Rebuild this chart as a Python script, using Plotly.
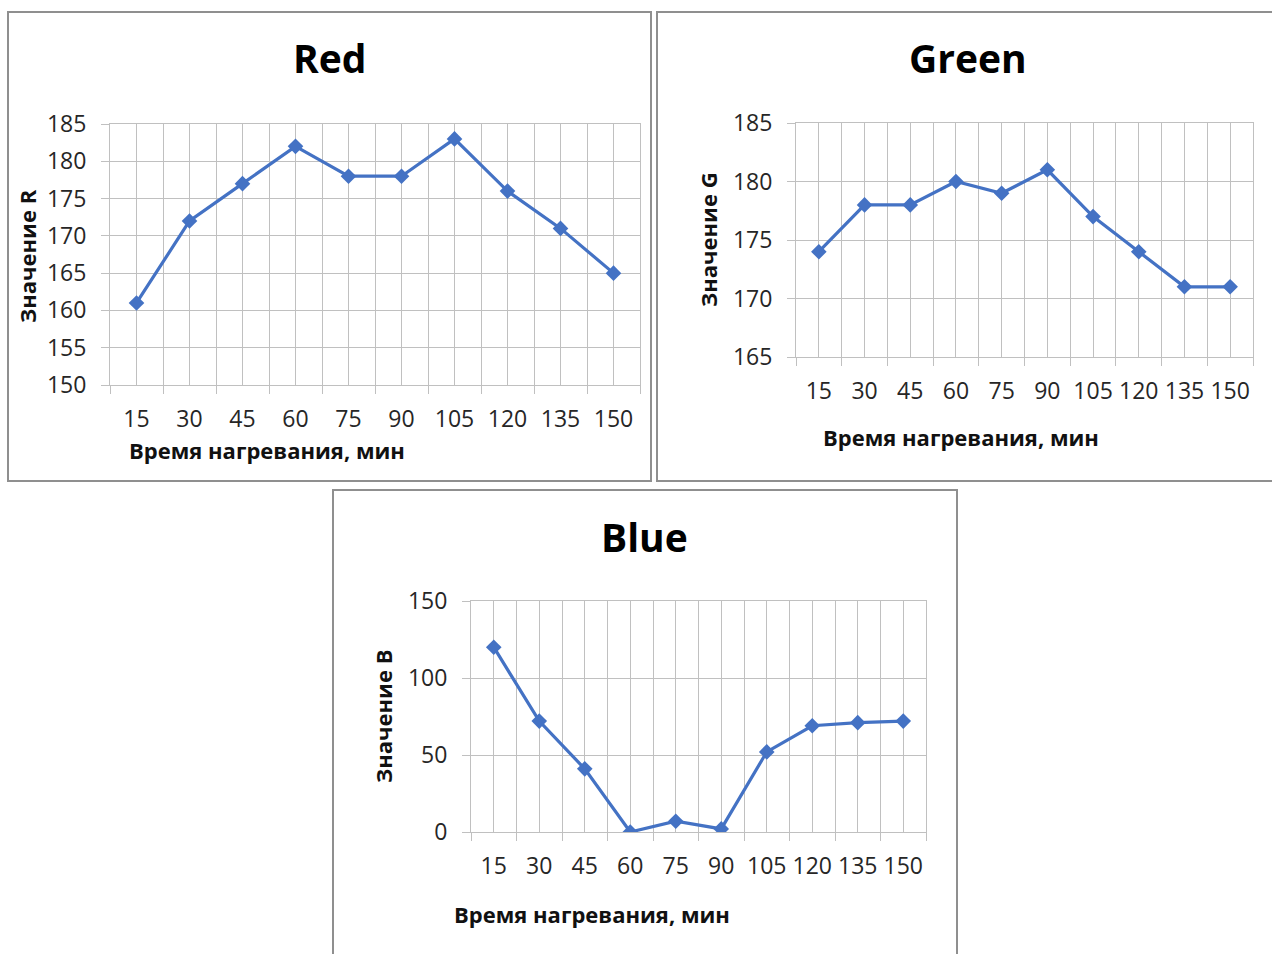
import plotly.graph_objects as go

# Heating time categories (minutes) and measured colour channel values
times = ["15", "30", "45", "60", "75", "90", "105", "120", "135", "150"]
red_vals = [161, 172, 177, 182, 178, 178, 183, 176, 171, 165]
green_vals = [174, 178, 178, 180, 179, 181, 177, 174, 171, 171]
blue_vals = [120, 72, 41, 0, 7, 2, 52, 69, 71, 72]

W, H = 1272, 954
FONT = "Open Sans"
LINE = "#4472C4"
GRID = "#c0c0c0"
BORDER = "#8f8f8f"
TICK_TXT = "#262626"


def px(x):
    return x / W


def py(y):
    return 1 - y / H


xpos = list(range(1, len(times) + 1))
bounds = [i + 0.5 for i in range(0, len(times) + 1)]

panels = [
    dict(name="Red", vals=red_vals, yr=[150, 185], dt=5, box=(110, 124, 640, 385),
         tpos=(329, 58), xt=(267, 450), yt=(27, 256), ylab="Значение R"),
    dict(name="Green", vals=green_vals, yr=[165, 185], dt=5, box=(796, 123, 1253, 357),
         tpos=(968, 58), xt=(961, 437), yt=(708, 240), ylab="Значение G"),
    dict(name="Blue", vals=blue_vals, yr=[0, 150], dt=50, box=(471, 601, 926, 832),
         tpos=(644, 536), xt=(592, 914), yt=(383, 717), ylab="Значение B"),
]

fig = go.Figure()
annotations = []
layout = {}

for i, p in enumerate(panels, start=1):
    sfx = "" if i == 1 else str(i)
    l, t, r, b = p["box"]
    fig.add_trace(go.Scatter(
        x=xpos, y=p["vals"], mode="lines+markers",
        line=dict(color=LINE, width=3.2),
        marker=dict(symbol="diamond", size=12, color=LINE),
        xaxis="x" + sfx, yaxis="y" + sfx, showlegend=False, hoverinfo="skip",
    ))
    layout["xaxis" + sfx] = dict(
        domain=[px(l), px(r)], anchor="y" + sfx, range=[0.5, len(times) + 0.5],
        tickmode="array", tickvals=xpos, ticktext=times, ticks="",
        showgrid=True, gridcolor=GRID, gridwidth=1,
        minor=dict(tickmode="array", tickvals=bounds, showgrid=True, gridcolor=GRID,
                   ticks="outside", ticklen=8, tickcolor=GRID, tickwidth=1),
        showline=True, linecolor=GRID, linewidth=1, mirror=True,
        zeroline=False, fixedrange=True, automargin=False, ticklabelstandoff=13,
        tickfont=dict(family=FONT, size=23, color=TICK_TXT),
    )
    layout["yaxis" + sfx] = dict(
        domain=[py(b), py(t)], anchor="x" + sfx, range=p["yr"], dtick=p["dt"],
        tick0=0, ticks="outside", ticklen=8, tickcolor=GRID, tickwidth=1,
        showgrid=True, gridcolor=GRID, gridwidth=1,
        showline=True, linecolor=GRID, linewidth=1, mirror=True,
        zeroline=False, fixedrange=True, automargin=False, ticklabelstandoff=10,
        tickfont=dict(family=FONT, size=23, color=TICK_TXT),
    )
    annotations.append(dict(
        text="<b>%s</b>" % p["name"], x=px(p["tpos"][0]), y=py(p["tpos"][1]),
        xref="paper", yref="paper", xanchor="center", yanchor="middle",
        showarrow=False, font=dict(family=FONT, size=39, color="#000000"),
    ))
    annotations.append(dict(
        text="<b>Время нагревания, мин</b>", x=px(p["xt"][0]), y=py(p["xt"][1]),
        xref="paper", yref="paper", xanchor="center", yanchor="middle",
        showarrow=False, font=dict(family=FONT, size=22, color="#111111"),
    ))
    annotations.append(dict(
        text="<b>%s</b>" % p["ylab"], x=px(p["yt"][0]), y=py(p["yt"][1]),
        xref="paper", yref="paper", xanchor="center", yanchor="middle",
        textangle=-90, showarrow=False, font=dict(family=FONT, size=22, color="#111111"),
    ))

# Chart frames
frames = [(8, 12, 651, 481), (657, 12, 1280, 481), (333, 490, 957, 970)]
shapes = [dict(type="rect", xref="paper", yref="paper",
               x0=px(a), y0=py(d), x1=px(c), y1=py(bb),
               line=dict(color=BORDER, width=2), fillcolor="rgba(0,0,0,0)", layer="below")
          for a, bb, c, d in frames]

fig.update_layout(
    width=W, height=H, margin=dict(l=0, r=0, t=0, b=0, autoexpand=False),
    paper_bgcolor="white", plot_bgcolor="white",
    annotations=annotations, shapes=shapes, **layout,
)

fig.write_html("out.html", config={"displayModeBar": False})
